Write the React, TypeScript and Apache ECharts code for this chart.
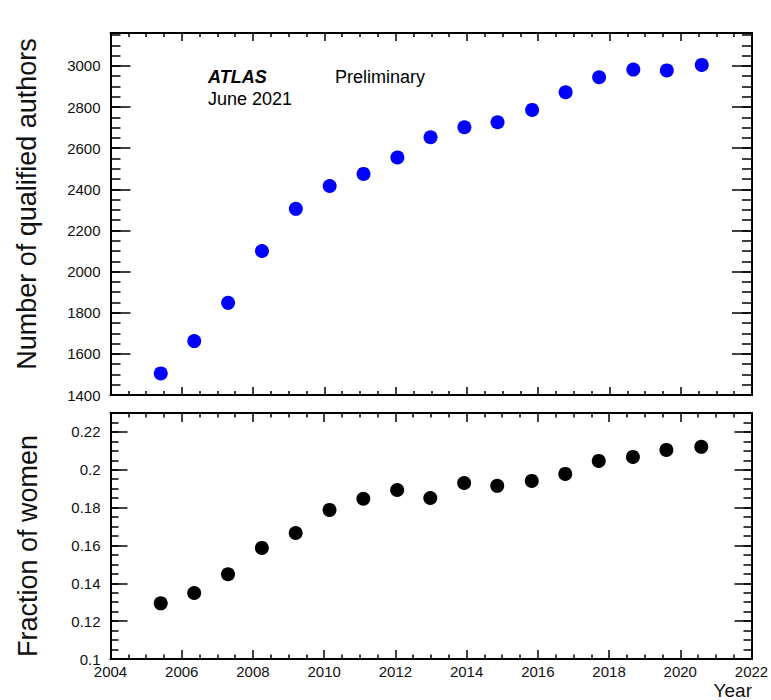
import React, { useEffect, useRef } from "react";
import * as echarts from "echarts";

// Data
const years = [2005.41, 2006.35, 2007.3, 2008.25, 2009.2, 2010.15, 2011.1, 2012.05, 2012.98, 2013.93, 2014.86, 2015.83, 2016.77, 2017.71, 2018.67, 2019.61, 2020.59];
const authors = [1505, 1662, 1848, 2100, 2305, 2416, 2475, 2555, 2653, 2702, 2726, 2786, 2872, 2945, 2982, 2978, 3005];
const fractionWomen = [0.1294, 0.1349, 0.1448, 0.1587, 0.1666, 0.1788, 0.1847, 0.1893, 0.1851, 0.193, 0.1915, 0.1941, 0.1978, 0.2047, 0.2068, 0.2105, 0.2121];

const xRange = { min: 2004, max: 2022, interval: 2 };
const authorsRange = { min: 1400, max: 3160, interval: 200, minor: 50 };
const fractionRange = { min: 0.1, max: 0.23, interval: 0.02, minor: 0.005 };

const FONT = "'Liberation Sans', Arial, Helvetica, sans-serif";
const INK = "#111";

const plain = (v: number) => String(Math.round(v * 10000) / 10000);

export default function App() {
  const ref = useRef<HTMLDivElement>(null);
  useEffect(() => {
    if (!ref.current) return;
    const chart = echarts.init(ref.current, undefined, { renderer: "svg" });

    const grids = [
      { left: 110.5, top: 33, width: 641.5, height: 362 },
      { left: 110.5, top: 413, width: 641, height: 246 },
    ];

    const lineStyle = { color: "#000", width: 2 };
    const tickStyle = { color: "#000", width: 1.5 };

    const xAxisDef = (gridIndex: number, position: string, labels: boolean, major: number, minor: number) => ({
      type: "value",
      gridIndex,
      position,
      min: xRange.min,
      max: xRange.max,
      interval: xRange.interval,
      axisLine: { show: true, onZero: false, lineStyle },
      axisTick: { show: true, inside: true, length: major, lineStyle: tickStyle },
      minorTick: { show: true, splitNumber: 4, length: minor, lineStyle: tickStyle },
      splitLine: { show: false },
      minorSplitLine: { show: false },
      axisLabel: {
        show: labels,
        margin: 5,
        fontSize: 15,
        color: INK,
        fontFamily: FONT,
        formatter: plain,
      },
    });

    const yAxisDef = (
      gridIndex: number,
      position: string,
      range: { min: number; max: number },
      interval: number,
      tickLen: number,
      labels: boolean,
      line: boolean
    ) => ({
      type: "value",
      gridIndex,
      position,
      min: range.min,
      max: range.max,
      interval,
      axisLine: { show: line, onZero: false, lineStyle },
      axisTick: { show: true, inside: true, length: tickLen, lineStyle: tickStyle },
      splitLine: { show: false },
      axisLabel: {
        show: labels,
        showMaxLabel: false,
        margin: 10,
        fontSize: 15,
        color: INK,
        fontFamily: FONT,
        formatter: plain,
      },
    });

    const option: any = {
      animation: false,
      backgroundColor: "#fff",
      grid: grids.map((g) => ({ ...g, containLabel: false, outerBoundsMode: "none" })),
      xAxis: [
        xAxisDef(0, "bottom", false, 8, 4),
        xAxisDef(0, "top", false, 8, 4),
        xAxisDef(1, "bottom", true, 9, 4.5),
        xAxisDef(1, "top", false, 9, 4.5),
      ],
      yAxis: [
        yAxisDef(0, "left", authorsRange, authorsRange.interval, 20, true, true),
        yAxisDef(0, "left", authorsRange, authorsRange.minor, 10, false, false),
        yAxisDef(0, "right", authorsRange, authorsRange.interval, 20, false, true),
        yAxisDef(0, "right", authorsRange, authorsRange.minor, 10, false, false),
        yAxisDef(1, "left", fractionRange, fractionRange.interval, 17, true, true),
        yAxisDef(1, "left", fractionRange, fractionRange.minor, 8, false, false),
        yAxisDef(1, "right", fractionRange, fractionRange.interval, 17, false, true),
        yAxisDef(1, "right", fractionRange, fractionRange.minor, 8, false, false),
      ],
      series: [
        {
          type: "scatter",
          xAxisIndex: 0,
          yAxisIndex: 0,
          symbol: "circle",
          symbolSize: 14,
          itemStyle: { color: "#0000ff", opacity: 1 },
          data: years.map((y, i) => [y, authors[i]]),
        },
        {
          type: "scatter",
          xAxisIndex: 2,
          yAxisIndex: 4,
          symbol: "circle",
          symbolSize: 14,
          itemStyle: { color: "#000", opacity: 1 },
          data: years.map((y, i) => [y, fractionWomen[i]]),
        },
      ],
      graphic: [
        {
          type: "text",
          x: 27,
          y: 204,
          rotation: Math.PI / 2,
          style: {
            text: "Number of qualified authors",
            fontSize: 27,
            fontFamily: FONT,
            fill: INK,
            textAlign: "center",
            textVerticalAlign: "middle",
          },
        },
        {
          type: "text",
          x: 28,
          y: 546,
          rotation: Math.PI / 2,
          style: {
            text: "Fraction of women",
            fontSize: 27,
            fontFamily: FONT,
            fill: INK,
            textAlign: "center",
            textVerticalAlign: "middle",
          },
        },
        {
          type: "text",
          x: 752,
          y: 690,
          style: {
            text: "Year",
            fontSize: 19,
            fontFamily: FONT,
            fill: INK,
            textAlign: "right",
            textVerticalAlign: "middle",
          },
        },
        {
          type: "text",
          x: 208,
          y: 77,
          style: {
            text: "ATLAS",
            fontSize: 18,
            fontWeight: "bold",
            fontStyle: "italic",
            fontFamily: FONT,
            fill: "#000",
            textAlign: "left",
            textVerticalAlign: "middle",
          },
        },
        {
          type: "text",
          x: 335,
          y: 77,
          style: {
            text: "Preliminary",
            fontSize: 18,
            fontFamily: FONT,
            fill: "#000",
            textAlign: "left",
            textVerticalAlign: "middle",
          },
        },
        {
          type: "text",
          x: 208,
          y: 99,
          style: {
            text: "June 2021",
            fontSize: 18,
            fontFamily: FONT,
            fill: "#000",
            textAlign: "left",
            textVerticalAlign: "middle",
          },
        },
      ],
    };

    chart.setOption(option);
    return () => chart.dispose();
  }, []);

  return (
    <div
      ref={ref}
      style={{ position: "fixed", left: 0, top: 0, width: 771, height: 700, background: "#fff" }}
    />
  );
}
